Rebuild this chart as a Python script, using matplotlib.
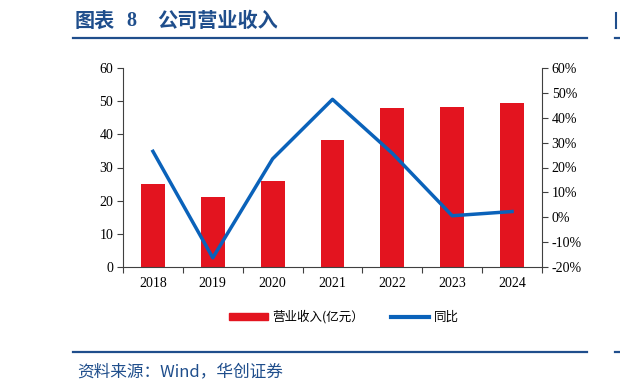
import matplotlib.pyplot as plt
from matplotlib.lines import Line2D
from matplotlib.patches import Patch

plt.rcParams['font.family'] = ['Liberation Serif', 'Noto Sans CJK SC']

years = ['2018', '2019', '2020', '2021', '2022', '2023', '2024']
revenue = [25.1, 21.0, 25.9, 38.2, 48.0, 48.3, 49.4]      # 亿元
yoy = [26.5, -16.3, 23.5, 47.4, 25.7, 0.6, 2.3]            # %

red = '#E3141F'
blue = '#0A62BA'
navy = '#1F4E8C'
gray = '#404040'

W, H = 620, 392
fig = plt.figure(figsize=(W/100, H/100), dpi=100)
ax = fig.add_axes([123/W, 1-267/H, (542-123)/W, (267-68)/H])

x = range(len(years))
ax.bar(x, revenue, width=0.4, color=red, zorder=2)
ax.set_xlim(-0.5, len(years)-0.5)
ax.set_ylim(0, 60)
ax.set_yticks(range(0, 61, 10))
# ticks between categories, labels at the centres
ax.set_xticks([i - 0.5 for i in range(len(years)+1)])
ax.set_xticklabels([])
ax.set_xticks(list(x), minor=True)
ax.set_xticklabels(years, minor=True)
ax.tick_params(axis='x', which='minor', length=0, pad=7, labelsize=10)
ax.tick_params(axis='x', which='major', length=4, color=gray)
ax.tick_params(axis='y', length=4, color=gray, labelsize=10, pad=3)
ax.spines['top'].set_visible(False)
ax.spines['right'].set_visible(False)
for s in ['left', 'bottom']:
    ax.spines[s].set_color(gray)

ax2 = ax.twinx()
ax2.plot(x, yoy, color=blue, lw=2.5, zorder=3)
ax2.set_ylim(-20, 60)
ax2.set_yticks(range(-20, 61, 10))
ax2.set_yticklabels([f'{v}%' for v in range(-20, 61, 10)])
ax2.tick_params(axis='y', length=4, color=gray, labelsize=10, pad=3)
for s in ['top', 'left', 'bottom']:
    ax2.spines[s].set_visible(False)
ax2.spines['right'].set_color(gray)

# legend
handles = [Patch(color=red), Line2D([0], [0], color=blue, lw=3)]
fig.legend(handles, ['营业收入(亿元）', '同比'], loc='center',
           bbox_to_anchor=(344/W, 1-317/H), ncol=2, frameon=False,
           handlelength=3.05, handleheight=0.55, columnspacing=2.1,
           handletextpad=0.4, borderpad=0, borderaxespad=0,
           prop={'family': ['Noto Sans CJK SC'], 'size': 9})

# title, rules, source
tkw = dict(color=navy, fontweight='bold', va='center', ha='left')
fig.text(75/W, 1-20/H, '图表', fontsize=14.5, family=['Noto Sans CJK SC'], **tkw)
fig.text(126/W, 1-20.5/H, '8', fontsize=14.5, family=['Liberation Serif'], **tkw)
fig.text(157/W, 1-20/H, '公司营业收入', fontsize=14.5, family=['Noto Sans CJK SC'], **tkw)
for yy in (37.7, 352):
    fig.add_artist(Line2D([73/W, 587/W], [1-yy/H, 1-yy/H], color=navy, lw=1.6))
    fig.add_artist(Line2D([615/W, 1.0], [1-yy/H, 1-yy/H], color=navy, lw=1.6))
fig.add_artist(Line2D([616/W, 616/W], [1-13/H, 1-28/H], color=navy, lw=1.5))
fig.text(77/W, 1-372/H, '资料来源：Wind，华创证券', color=navy, fontsize=12, style='italic',
         family=['Noto Sans CJK SC'], va='center', ha='left')

fig.savefig('out.png', dpi=100)
